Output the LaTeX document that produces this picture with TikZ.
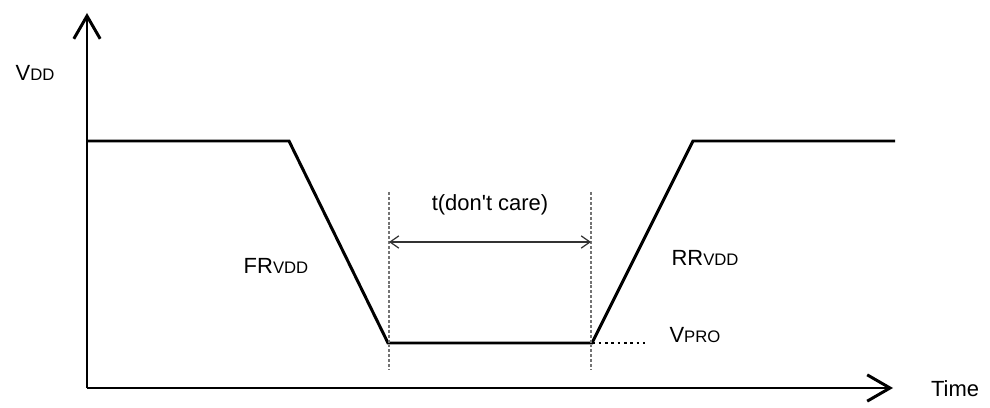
\documentclass[tikz,border=0pt]{standalone}
\usepackage{fontspec}
\setmainfont{Liberation Sans}
\usetikzlibrary{arrows.meta}
\newcommand{\lowcap}[1]{{\fontsize{9.5pt}{9.5pt}\selectfont #1}}
\begin{document}
\begin{tikzpicture}[x=0.02cm,y=-0.02cm,font=\fontsize{12.5pt}{14pt}\selectfont,
        axis/.style={line width=1.7pt,-{Straight Barb[length=13pt,width=15pt]}},
        guide/.style={black!55,line width=1.5pt,dash pattern=on 1.7pt off 1.1pt},
        span/.style={black!80,line width=0.7pt,{Straight Barb[length=5pt,width=7pt]}-{Straight Barb[length=5pt,width=7pt]}}]
                \useasboundingbox (0,0) rectangle (990,408);
                % axes
                \coordinate (O) at (87,388);
                \coordinate (ytop) at (87,13);
                \coordinate (xend) at (893,388);
                \draw[axis] (O) -- (ytop);
                \draw[axis] (O) -- (xend);
                % supply waveform
                \coordinate (h0) at (87,141);
                \coordinate (f0) at (289,141);
                \coordinate (f1) at (388,343);
                \coordinate (r0) at (592,343);
                \coordinate (r1) at (693,141);
                \coordinate (h1) at (895,141);
                \draw[line width=1.7pt] (h0) -- (f0) -- (f1) -- (r0) -- (r1) -- (h1);
                \draw[line width=1.6pt,dotted] (510,343) -- (645,343);
                % don't care window
                \foreach \x/\n in {389/gl,591/gr}{
                    \draw[guide] (\x,192) coordinate (\n) -- (\x,370);
                }
                \draw[span] (389,242) coordinate (sl) -- (591,242) coordinate (sr);
                % labels
                \node (vdd) at (35,73) {V\lowcap{DD}};
                \node (time) at (955,389) {Time};
                \node (tdc) at (490,205) {t(don\textquotesingle t care)};
                \node (frvdd) at (276,266) {FR\lowcap{VDD}};
                \node (rrvdd) at (705,258) {RR\lowcap{VDD}};
                \node (vpro) at (695,335) {V\lowcap{PRO}};
            \end{tikzpicture}
\end{document}
